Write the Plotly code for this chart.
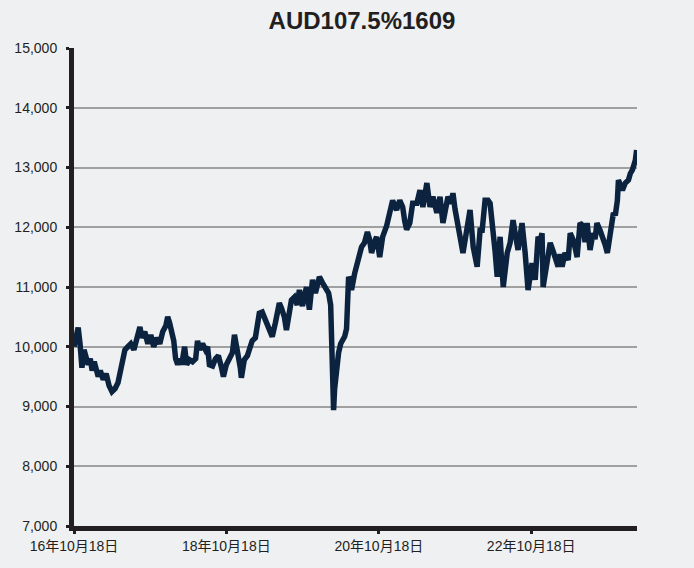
import plotly.graph_objects as go

dates = [
"2016-10-18","2016-10-28","2016-11-07","2016-11-16","2016-11-25","2016-12-05","2016-12-15","2016-12-25",
"2017-01-04","2017-01-13","2017-01-23","2017-02-01","2017-02-11","2017-02-21","2017-03-07","2017-03-21",
"2017-04-04","2017-04-18","2017-05-03","2017-05-17","2017-05-27","2017-06-10","2017-06-19","2017-07-03",
"2017-07-17","2017-08-01","2017-08-15","2017-08-30","2017-09-08","2017-09-22","2017-10-07","2017-10-21",
"2017-11-04","2017-11-19","2017-12-03","2017-12-17","2018-01-01","2018-01-10","2018-01-19","2018-01-29",
"2018-02-08","2018-02-17","2018-02-27","2018-03-08","2018-03-18","2018-04-01","2018-04-11","2018-04-25",
"2018-05-09","2018-05-24","2018-06-02","2018-06-12","2018-06-26","2018-07-10","2018-07-20","2018-07-29",
"2018-08-13","2018-08-27","2018-09-10","2018-09-25","2018-10-04","2018-10-18","2018-11-02","2018-11-16",
"2018-11-26","2018-12-05","2018-12-15","2018-12-24","2018-12-29","2019-01-12","2019-01-27","2019-02-05",
"2019-02-19","2019-03-06","2019-03-15","2019-03-25","2019-04-08","2019-04-23","2019-05-02","2019-05-12",
"2019-05-26","2019-06-10","2019-06-19","2019-06-29","2019-07-09","2019-07-23","2019-08-02","2019-08-16",
"2019-08-26","2019-09-09","2019-09-23","2019-10-03","2019-10-18","2019-10-27","2019-11-06","2019-11-20",
"2019-12-05","2019-12-19","2019-12-29","2020-01-07","2020-01-22","2020-02-05","2020-02-20","2020-03-01",
"2020-03-05","2020-03-10","2020-03-15","2020-03-20","2020-03-29","2020-04-08","2020-04-18","2020-04-27",
"2020-05-07","2020-05-16","2020-05-21","2020-05-26","2020-06-04","2020-06-09","2020-06-24","2020-07-08",
"2020-07-17","2020-07-27","2020-08-10","2020-08-24","2020-09-03","2020-09-13","2020-09-27","2020-10-07",
"2020-10-22","2020-11-05","2020-11-24","2020-12-09","2020-12-23","2021-01-02","2021-01-11","2021-01-26",
"2021-02-09","2021-02-19","2021-02-28","2021-03-15","2021-03-29","2021-04-18","2021-05-03","2021-05-17",
"2021-06-05","2021-06-20","2021-07-04","2021-07-23","2021-08-07","2021-08-21","2021-09-05","2021-09-14",
"2021-09-29","2021-10-08","2021-10-18","2021-10-27","2021-11-11","2021-11-25","2021-12-14","2021-12-29",
"2022-01-13","2022-01-22","2022-02-01","2022-02-15","2022-02-25","2022-03-11","2022-03-25","2022-04-04",
"2022-04-18","2022-04-28","2022-05-08","2022-05-22","2022-06-06","2022-06-15","2022-06-25","2022-07-09",
"2022-07-23","2022-08-02","2022-08-16","2022-08-26","2022-09-04","2022-09-19","2022-10-03","2022-10-18",
"2022-10-22","2022-11-06","2022-11-20","2022-11-30","2022-12-09","2022-12-14","2022-12-24","2023-01-02",
"2023-01-17","2023-01-31","2023-02-10","2023-02-24","2023-03-05","2023-03-15","2023-03-29","2023-04-13",
"2023-04-23","2023-05-07","2023-05-17","2023-05-26","2023-06-09","2023-06-24","2023-07-03","2023-07-13",
"2023-07-27","2023-08-10","2023-08-20","2023-08-29","2023-09-13","2023-09-27","2023-10-08","2023-10-18",
"2023-11-01","2023-11-16","2023-11-25","2023-12-05","2023-12-10","2023-12-19","2023-12-29","2024-01-12",
"2024-01-27","2024-02-05","2024-02-15","2024-02-29","2024-03-06","2024-03-09",
]

values = [
10000,10150,10320,10050,9650,9950,9850,9700,
9800,9600,9750,9650,9500,9600,9450,9550,
9350,9250,9300,9400,9560,9750,9950,10000,
10050,9950,10100,10330,10150,10250,10050,10200,
10000,10150,10050,10250,10350,10500,10400,10250,
10100,9800,9700,9800,9700,10000,9700,9780,
9750,9800,10100,9950,10050,9950,10000,9700,
9680,9800,9850,9650,9500,9700,9800,9900,
10200,10050,9900,9650,9480,9780,9850,9950,
10100,10150,10350,10560,10580,10450,10330,10250,
10170,10400,10600,10730,10650,10500,10280,10550,
10780,10830,10700,10950,10680,10850,11000,10620,
11120,10900,11030,11170,11070,11000,10900,10700,
10300,9500,8940,9300,9610,9900,10050,10100,
10170,10300,10700,11170,11100,10950,11230,11450,
11600,11670,11740,11920,11800,11570,11750,11840,
11500,11840,12020,12240,12450,12350,12290,12450,
12340,12100,11960,12070,12400,12400,12620,12340,
12740,12340,12510,12240,12510,12070,12300,12510,
12400,12570,12300,12070,11840,11570,12020,12290,
11670,11500,11340,11950,11950,12450,12450,12400,
12020,11600,11170,11840,11000,11300,11570,11740,
12120,11900,11620,11850,12070,11570,10950,11300,
11400,11120,11840,11780,11900,11000,11200,11400,
11740,11600,11500,11340,11550,11340,11570,11450,
11900,11790,11650,11500,12070,12020,11750,12070,
11620,11900,11800,12070,11950,11840,11700,11570,
11840,12240,12200,12450,12790,12700,12620,12740,
12790,12900,12960,13120,13290,13150,
]

tick_vals = ["2016-10-18", "2018-10-18", "2020-10-18", "2022-10-18"]
tick_text = ["16年10月18日", "18年10月18日", "20年10月18日", "22年10月18日"]
y_ticks = [7000, 8000, 9000, 10000, 11000, 12000, 13000, 14000, 15000]

FONT = "Liberation Sans, Arial, Noto Sans CJK JP, sans-serif"
BG = "#eff0f2"
INK = "#231f20"

fig = go.Figure()
fig.add_trace(go.Scatter(
    x=dates, y=values, mode="lines",
    line=dict(color="#0c2340", width=5.5, shape="linear"),
    showlegend=False, hoverinfo="skip",
))

fig.update_layout(
    width=694, height=568,
    paper_bgcolor=BG, plot_bgcolor=BG,
    margin=dict(l=74, r=57, t=48, b=42, autoexpand=False),
    title=dict(text="<b>AUD107.5%1609</b>", x=355 / 694, xref="paper", xanchor="center",
               y=1 - 21 / 568, yref="container", yanchor="middle",
               font=dict(family=FONT, size=24, color=INK)),
    font=dict(family=FONT, size=14, color=INK),
)

fig.update_xaxes(
    type="date",
    range=["2016-10-18", "2024-03-08"],
    tickvals=tick_vals, ticktext=tick_text,
    showgrid=False, zeroline=False, automargin=False,
    showline=True, linecolor=INK, linewidth=5,
    ticks="outside", ticklen=3, tickwidth=3, tickcolor=INK,
    tickfont=dict(family=FONT, size=14, color=INK),
)
fig.update_yaxes(
    range=[7000, 15000],
    tickvals=y_ticks, tickformat=",d",
    showgrid=True, gridcolor="#a0a0a0", gridwidth=2,
    zeroline=False, automargin=False,
    showline=True, linecolor=INK, linewidth=5,
    ticks="outside", ticklen=3, tickwidth=3, tickcolor=INK,
    tickfont=dict(family=FONT, size=14, color=INK),
    ticklabelstandoff=6,
)

fig.write_html("out.html",
               config={"displayModeBar": False},
               post_script="document.body.style.margin='0';document.body.style.padding='0';")
